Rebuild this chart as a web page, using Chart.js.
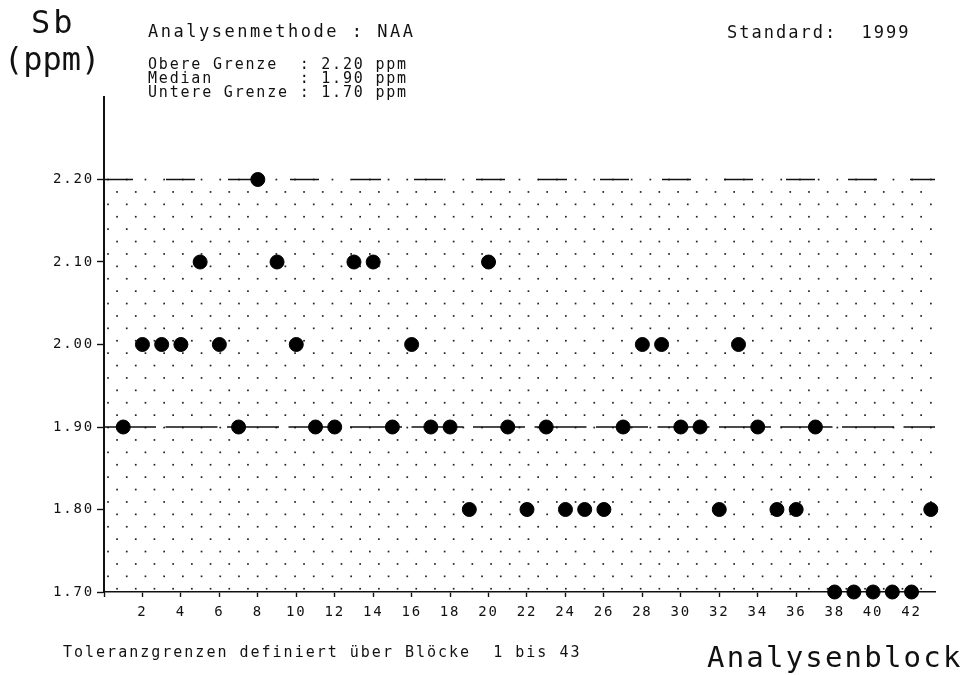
<!DOCTYPE html>
<html>
<head>
<meta charset="utf-8">
<title>Sb Analysenblock</title>
<script src="https://cdn.jsdelivr.net/npm/chart.js@4.4.1/dist/chart.umd.min.js"></script>
<style>
  html, body { margin: 0; padding: 0; background: #fff; }
  canvas { display: block; }
</style>
</head>
<body>
<canvas id="chart" width="972" height="675"></canvas>
<script>
// Analysenblock 1..43
const blocks = [
  1, 2, 3, 4, 5, 6, 7, 8, 9, 10,
  11, 12, 13, 14, 15, 16, 17, 18, 19, 20,
  21, 22, 23, 24, 25, 26, 27, 28, 29, 30,
  31, 32, 33, 34, 35, 36, 37, 38, 39, 40,
  41, 42, 43,
];
// Sb (ppm) je Block
const sbValues = [
  1.9, 2.0, 2.0, 2.0, 2.1, 2.0, 1.9, 2.2, 2.1, 2.0,
  1.9, 1.9, 2.1, 2.1, 1.9, 2.0, 1.9, 1.9, 1.8, 2.1,
  1.9, 1.8, 1.9, 1.8, 1.8, 1.8, 1.9, 2.0, 2.0, 1.9,
  1.9, 1.8, 2.0, 1.9, 1.8, 1.8, 1.9, 1.7, 1.7, 1.7,
  1.7, 1.7, 1.8,
];
const upperLimit = 2.2;
const median = 1.9;
const lowerLimit = 1.7;
const yTicks = [1.7, 1.8, 1.9, 2.0, 2.1, 2.2];
const xRange = [0, 43.22];
const yRange = [1.7, 2.3];

const FONT = '"DejaVu Sans Mono", "Liberation Mono", monospace';

function limitLine(value, dash) {
  return {
    type: 'line',
    data: xRange.map((x) => ({ x, y: value })),
    borderColor: '#111',
    borderWidth: 1.6,
    borderDash: dash,
    pointRadius: 0,
    fill: false,
  };
}

// dot raster between upper and lower limit
const dotFill = {
  id: 'dotFill',
  beforeDatasetsDraw(chart) {
    const { ctx, chartArea, scales } = chart;
    const top = scales.y.getPixelForValue(upperLimit);
    const bottom = scales.y.getPixelForValue(lowerLimit);
    const right = chartArea.right - 2;
    ctx.save();
    ctx.fillStyle = '#222';
    let row = 0;
    for (let y = top; y <= bottom + 0.5; y += 12.4) {
      const start = chartArea.left + (row % 2 ? 13 : 4);
      for (let x = start; x <= right; x += 18.7) {
        ctx.fillRect(x - 0.8, y - 0.8, 1.7, 1.7);
      }
      row += 1;
    }
    ctx.restore();
  },
};

function drawText(ctx, text, x, y, size, spacing) {
  ctx.save();
  ctx.font = `${size}px ${FONT}`;
  ctx.letterSpacing = `${spacing}px`;
  ctx.fillStyle = '#111';
  ctx.textAlign = 'left';
  ctx.textBaseline = 'alphabetic';
  ctx.fillText(text, x, y);
  ctx.restore();
}

const labels = {
  id: 'labels',
  beforeLayout(chart) {
    chart.ctx.letterSpacing = '1.8px';
  },
  beforeDraw(chart) {
    chart.ctx.letterSpacing = '1.8px';
  },
  afterDraw(chart) {
    const ctx = chart.ctx;
    drawText(ctx, 'Sb', 31, 33, 32, 3);
    drawText(ctx, '(ppm)', 4, 70, 32, 0);
    drawText(ctx, 'Analysenmethode : NAA', 148, 37, 17, 2.5);
    drawText(ctx, 'Standard:  1999', 727, 38, 17, 2);
    drawText(ctx, 'Obere Grenze  : 2.20 ppm', 148, 69, 15, 1.8);
    drawText(ctx, 'Median        : 1.90 ppm', 148, 83, 15, 1.8);
    drawText(ctx, 'Untere Grenze : 1.70 ppm', 148, 97, 15, 1.8);
    drawText(ctx, 'Toleranzgrenzen definiert über Blöcke  1 bis 43', 63, 657, 15, 2);
    drawText(ctx, 'Analysenblock', 707, 667, 29, 2.2);
  },
};

new Chart(document.getElementById('chart'), {
  type: 'scatter',
  data: {
    datasets: [
      {
        label: 'Sb',
        data: blocks.map((b, i) => ({ x: b, y: sbValues[i] })),
        backgroundColor: '#000',
        borderColor: '#000',
        pointRadius: 7,
        pointHoverRadius: 7,
        showLine: false,
        clip: false,
      },
      limitLine(upperLimit, [29, 33]),
      limitLine(median, [52, 9.5]),
      limitLine(lowerLimit, []),
    ],
  },
  plugins: [dotFill, labels],
  options: {
    responsive: false,
    animation: false,
    devicePixelRatio: 1,
    layout: { padding: { top: 97, right: 37, left: 0, bottom: 0 } },
    plugins: {
      legend: { display: false },
      tooltip: { enabled: false },
    },
    scales: {
      x: {
        type: 'linear',
        min: xRange[0],
        max: xRange[1],
        afterFit(scale) {
          scale.height = 83;
        },
        border: { color: '#111', width: 1.6 },
        grid: {
          drawOnChartArea: false,
          tickLength: 5,
          tickColor: '#111',
          tickWidth: 1.4,
        },
        ticks: {
          stepSize: 2,
          includeBounds: false,
          maxRotation: 0,
          autoSkip: false,
          padding: 7,
          color: '#111',
          font: { family: FONT, size: 14 },
          callback: (v) => (v === 0 ? '' : String(v)),
        },
      },
      y: {
        type: 'linear',
        min: yRange[0],
        max: yRange[1],
        afterFit(scale) {
          scale.width = 104;
        },
        afterBuildTicks(scale) {
          scale.ticks = yTicks.map((value) => ({ value }));
        },
        border: { color: '#111', width: 2 },
        grid: {
          drawOnChartArea: false,
          tickLength: 7,
          tickColor: '#111',
          tickWidth: 1.4,
        },
        ticks: {
          padding: 3,
          color: '#111',
          font: { family: FONT, size: 14 },
          callback: (v) => Number(v).toFixed(2),
        },
      },
    },
  },
});
</script>
</body>
</html>
